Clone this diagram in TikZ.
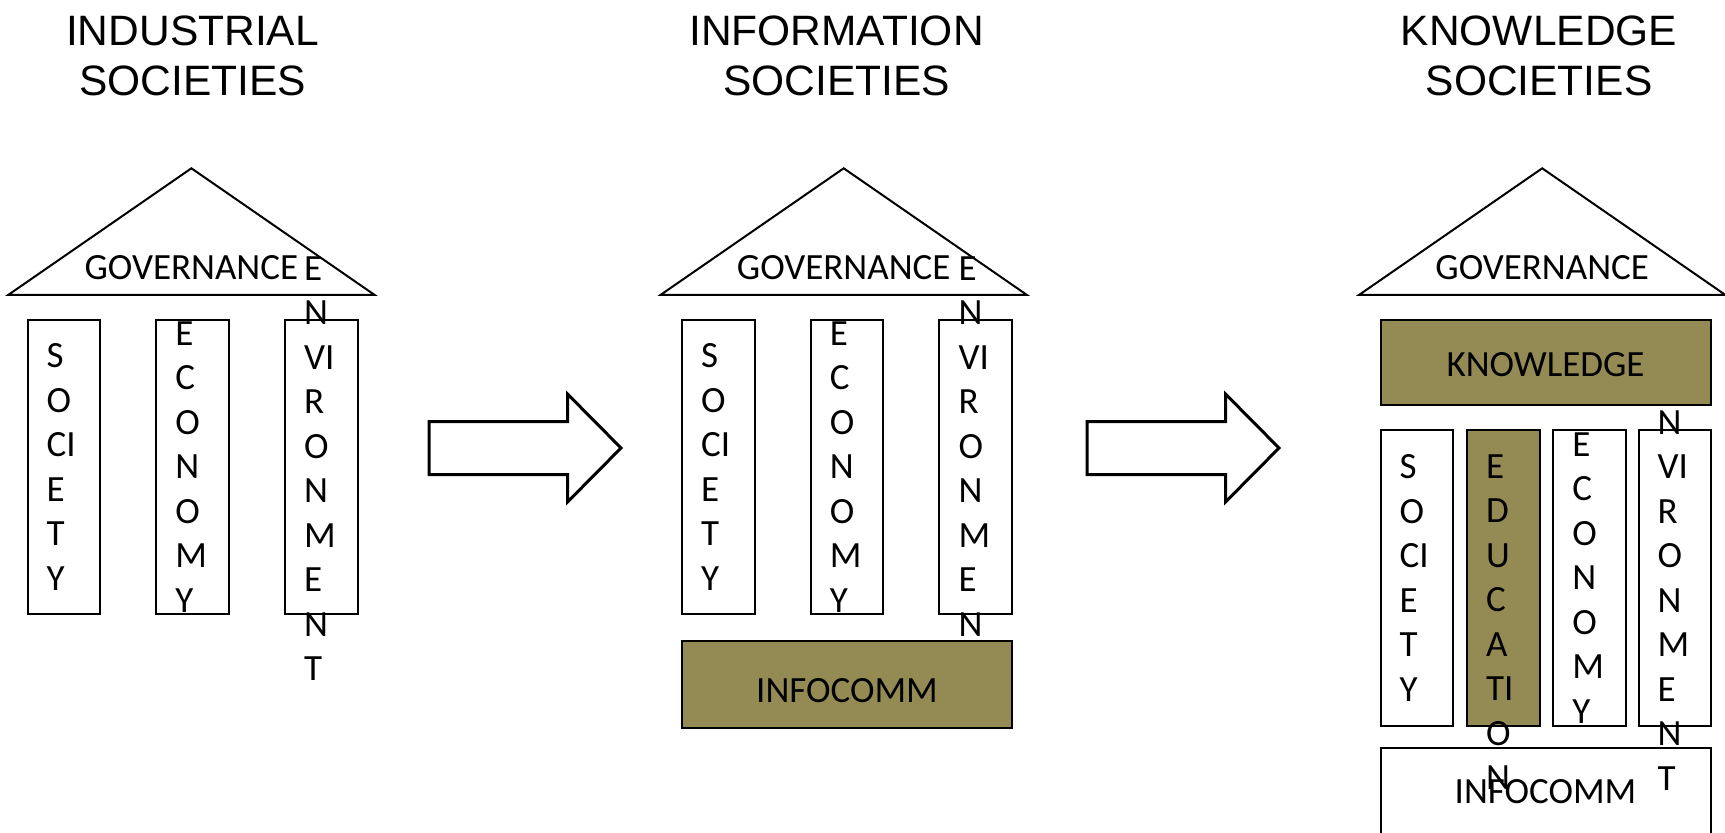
\documentclass[tikz,border=0pt]{standalone}
\usepackage{fontspec}
\newfontfamily\calibri{Carlito}
\newfontfamily\arial{Liberation Sans}
\usetikzlibrary{positioning}
\definecolor{bandolive}{RGB}{148,138,84}
\newcommand{\boxfont}{\calibri\fontsize{37}{44.5}\selectfont}
\newcommand{\headfont}{\arial\fontsize{42.5}{50}\selectfont}

\begin{document}
\begin{tikzpicture}
[
x = 1pt, y = -1pt,
heading/.style = {align = center, inner sep = 0pt, font = \headfont, anchor = north},
roof/.style = {draw, line width = 2pt, line join = miter},
roofname/.style = {inner sep = 0pt, font = \boxfont},
pillar/.style = {rectangle, draw, line width = 2pt, minimum width = 72.6pt, minimum height = 293.7pt, inner sep = 0pt},
letters/.style = {align = left, inner sep = 0pt, font = \boxfont, anchor = west},
band/.style = {rectangle, draw, line width = 2pt, fill = bandolive, minimum width = 330pt, minimum height = 87pt, inner sep = 0pt, font = \boxfont},
bigarrow/.style = {draw, line width = 3pt, line join = miter}
]
    \clip (0,0) rectangle (1725,833);

    % headings
    \node[heading] (industrial) at (192.5,16) {INDUSTRIAL\\SOCIETIES};
    \node[heading] (information) at (836.5,16) {INFORMATION\\SOCIETIES};
    \node[heading] (knowledge) at (1539,16) {KNOWLEDGE\\SOCIETIES};

    % industrial
    \coordinate (top1) at (191.4,168.3);
    \draw[roof] (top1) -- ++(183,126.5) -- ++(-366,0) -- cycle;
    \node[roofname] (gov1) at ([yshift = -99pt]top1) {GOVERNANCE};
    \node[pillar] (soc1) at (63.8,467) {};
    \node[pillar] (eco1) at (192.5,467) {};
    \node[pillar] (env1) at (321.2,467) {};
    \node[letters] (soc1text) at ([xshift = 20pt]soc1.west) {S\\O\\CI\\E\\T\\Y};
    \node[letters] (eco1text) at ([xshift = 20pt]eco1.west) {E\\C\\O\\N\\O\\M\\Y};
    \node[letters] (env1text) at ([xshift = 20pt, yshift = -1.5pt]env1.west) {E\\N\\VI\\R\\O\\N\\M\\E\\N\\T};

    \draw[bigarrow] (429,421.5) -- ++(138.5,0) -- ++(0,-27.5) -- ++(53.5,54) -- ++(-53.5,54) -- ++(0,-27.5) -- ++(-138.5,0) -- cycle;

    % information
    \coordinate (top2) at (843.7,168.3);
    \draw[roof] (top2) -- ++(183,126.5) -- ++(-366,0) -- cycle;
    \node[roofname] (gov2) at ([yshift = -99pt]top2) {GOVERNANCE};
    \node[pillar] (soc2) at (718.3,467) {};
    \node[pillar] (eco2) at (847,467) {};
    \node[pillar] (env2) at (975.7,467) {};
    \node[letters] (soc2text) at ([xshift = 20pt]soc2.west) {S\\O\\CI\\E\\T\\Y};
    \node[letters] (eco2text) at ([xshift = 20pt]eco2.west) {E\\C\\O\\N\\O\\M\\Y};
    \node[letters] (env2text) at ([xshift = 20pt, yshift = -1.5pt]env2.west) {E\\N\\VI\\R\\O\\N\\M\\E\\N\\T};
    \node[band, text height = 35pt] (info2) at (847,684.8) {INFOCOMM};

    \draw[bigarrow] (1087,421.5) -- ++(138.5,0) -- ++(0,-27.5) -- ++(53.5,54) -- ++(-53.5,54) -- ++(0,-27.5) -- ++(-138.5,0) -- cycle;

    % knowledge
    \coordinate (top3) at (1542.2,168.3);
    \draw[roof] (top3) -- ++(183,126.5) -- ++(-366,0) -- cycle;
    \node[roofname] (gov3) at ([yshift = -99pt]top3) {GOVERNANCE};
    \node[band, fill = white] (info3) at (1545.5,791.8) {INFOCOMM};
    \node[pillar, minimum height = 296pt] (soc3) at (1416.8,578) {};
    \node[pillar, minimum height = 296pt, fill = bandolive] (edu3) at (1503.2,578) {};
    \node[pillar, minimum height = 296pt] (eco3) at (1589.5,578) {};
    \node[pillar, minimum height = 296pt] (env3) at (1674.8,578) {};
    \node[letters] (soc3text) at ([xshift = 20pt]soc3.west) {S\\O\\CI\\E\\T\\Y};
    \node[letters, anchor = north west] (edu3text) at ([xshift = 20pt, yshift = -25.4pt]edu3.north west) {E\\D\\U\\C\\A\\TI\\O\\N};
    \node[letters] (eco3text) at ([xshift = 20pt]eco3.west) {E\\C\\O\\N\\O\\M\\Y};
    \node[letters] (env3text) at ([xshift = 20pt]env3.west) {E\\N\\VI\\R\\O\\N\\M\\E\\N\\T};
    \node[band, minimum height = 84.7pt, text height = 29pt] (know3) at (1545.5,362.5) {KNOWLEDGE};
\end{tikzpicture}
\end{document}
